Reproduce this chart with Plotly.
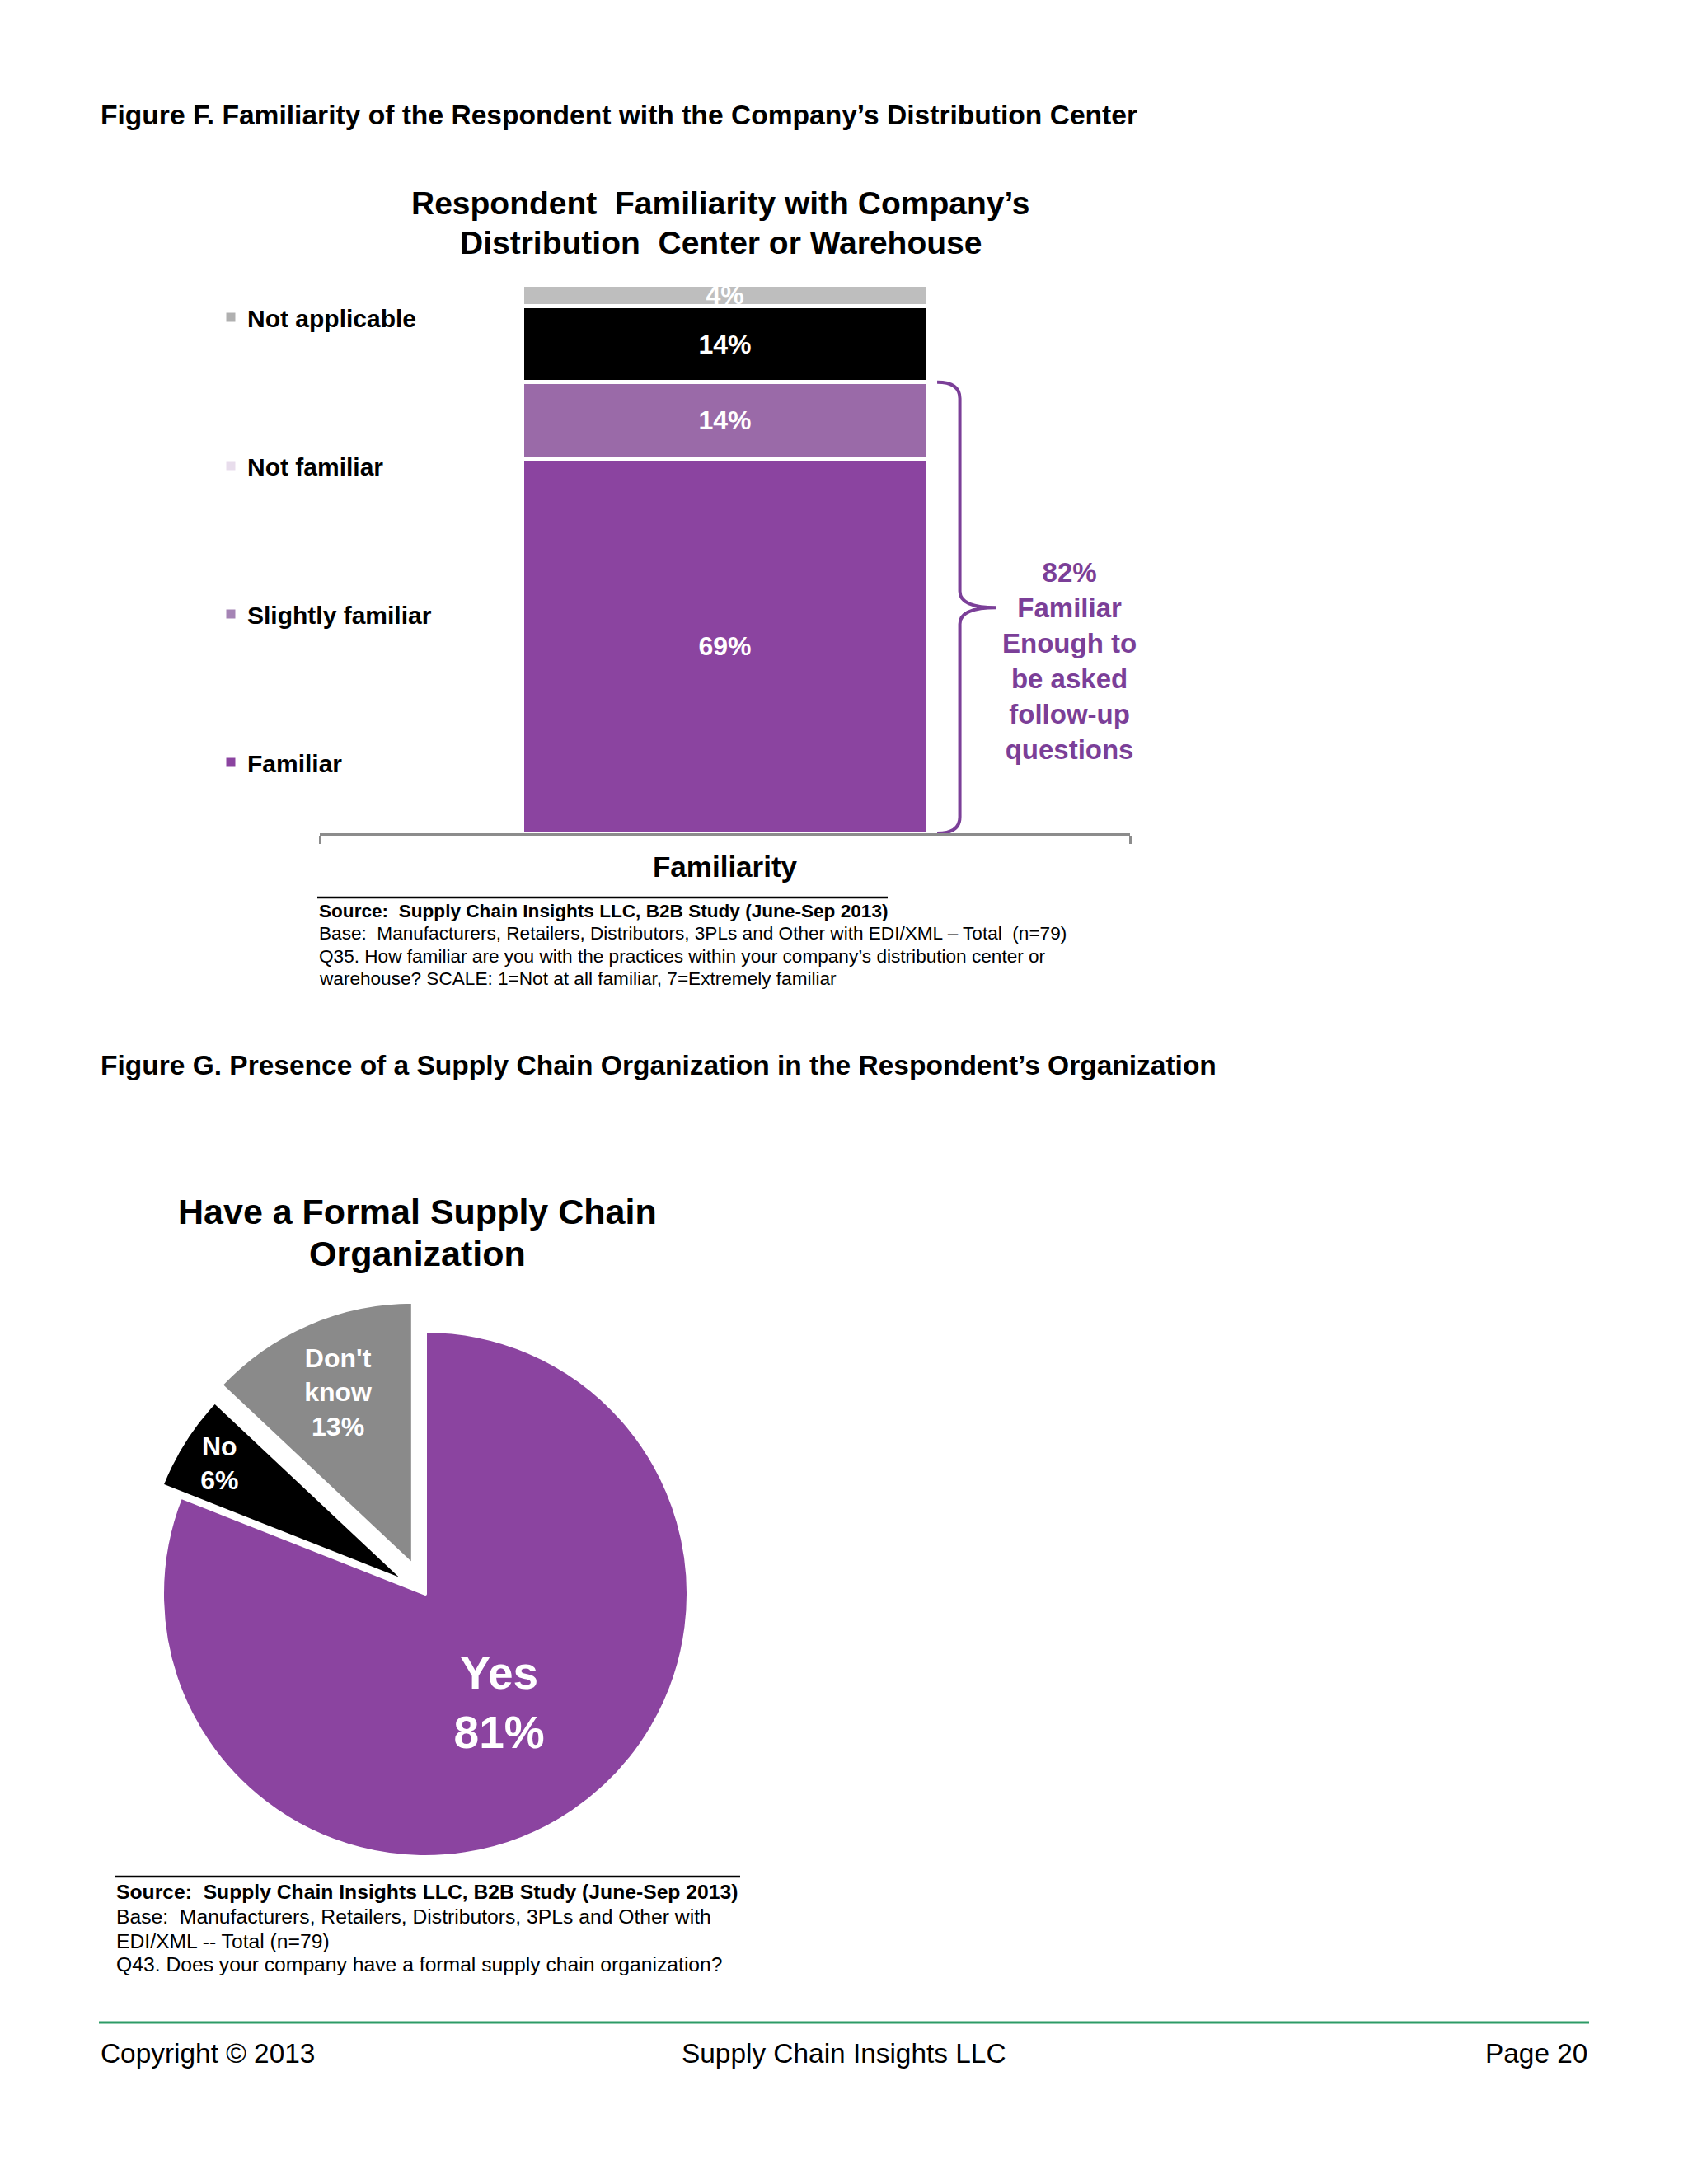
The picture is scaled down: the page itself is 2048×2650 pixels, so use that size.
import plotly.graph_objects as go

W, H = 2048, 2650
FONT = "Liberation Sans, Arial, Helvetica, sans-serif"

# ---------------- Figure F data ----------------
fam_axis_label = ["Familiarity"]
fam_categories = ["Familiar", "Slightly familiar", "Not familiar", "Not applicable"]  # bottom -> top
fam_values = [69, 14, 14, 4]
fam_bar_colors = ["#8B44A0", "#9A6AA8", "#000000", "#BEBEBE"]
fam_legend_colors = ["#8B44A0", "#A584B5", "#E8DDEC", "#B0B0B0"]
fam_bracket_text = "82%<br>Familiar<br>Enough to<br>be asked<br>follow-up<br>questions"

# ---------------- Figure G data ----------------
org_labels = ["Yes", "No", "Don't know"]
org_values = [81, 6, 13]
org_colors = ["#8B44A0", "#000000", "#8A8A8A"]


def px(x):
    return x / W


def py(y):
    return 1 - y / H


fig = go.Figure()

# stacked bar
for cat, val, col in zip(fam_categories, fam_values, fam_bar_colors):
    fig.add_trace(go.Bar(
        x=fam_axis_label, y=[val], name=cat, width=0.5,
        marker=dict(color=col, line=dict(color="white", width=5)),
        text=[f"{val}%"], texttemplate="%{text}", textposition="inside",
        insidetextanchor="middle", constraintext="none",
        textfont=dict(family=FONT, size=32, color="white", weight="bold"),
        showlegend=False, hoverinfo="skip",
    ))

# legend entries (top -> bottom)
for cat, col in zip(fam_categories[::-1], fam_legend_colors[::-1]):
    fig.add_trace(go.Scatter(
        x=[None], y=[None], mode="markers", name=cat, legendgroup=cat,
        marker=dict(symbol="square", size=11, color=col),
        showlegend=True, hoverinfo="skip",
    ))

# pie
R = 319
MAXPULL = 0.12
CX, CY = 516, 1934
half = R * (1 + MAXPULL)
pie_text = [lab.replace(" ", "<br>") + f"<br>{v}%" for lab, v in zip(org_labels, org_values)]
fig.add_trace(go.Pie(
    labels=org_labels, values=org_values, sort=False, direction="clockwise", rotation=0,
    pull=[0, 0.085, MAXPULL],
    marker=dict(colors=org_colors, line=dict(color="white", width=4)),
    text=pie_text, textinfo="text", textposition="inside",
    insidetextorientation="horizontal",
    textfont=dict(family=FONT, size=[55, 32, 32], color="white", weight="bold"),
    domain=dict(x=[px(CX - half), px(CX + half)], y=[py(CY + half), py(CY - half)]),
    showlegend=False, hoverinfo="skip",
))

# curly bracket around Familiar + Slightly familiar
top = fam_values[0] + fam_values[1]
mid = top / 2
d = 3.0
x0, x1, x2 = 0.262, 0.29, 0.335
bracket = (f"M {x0},{top} Q {x1},{top} {x1},{top - d} L {x1},{mid + d} "
           f"Q {x1},{mid} {x2},{mid} Q {x1},{mid} {x1},{mid - d} "
           f"L {x1},{d} Q {x1},0 {x0},0")

shapes = [
    dict(type="path", xref="x", yref="y", path=bracket,
         line=dict(color="#7B3F98", width=4)),
    dict(type="line", xref="paper", yref="paper", x0=px(385), x1=px(1077),
         y0=py(1089), y1=py(1089), line=dict(color="black", width=2.5)),
    dict(type="line", xref="paper", yref="paper", x0=px(139), x1=px(898),
         y0=py(2277), y1=py(2277), line=dict(color="black", width=2.5)),
    dict(type="line", xref="paper", yref="paper", x0=px(120), x1=px(1928),
         y0=py(2454), y1=py(2454), line=dict(color="#2E9B67", width=3)),
]


def ann(text, x, y, size, bold=False, xanchor="left", color="black", align="left"):
    return dict(text=text, x=px(x), y=py(y), xref="paper", yref="paper",
                xanchor=xanchor, yanchor="middle", showarrow=False, align=align,
                font=dict(family=FONT, size=size, color=color,
                          weight="bold" if bold else "normal"))


annotations = [
    ann("Figure F. Familiarity of the Respondent with the Company\u2019s Distribution Center", 120, 139, 33.6, True),
    ann("Respondent  Familiarity with Company\u2019s", 874, 247, 39, True, xanchor="center"),
    ann("Distribution  Center or Warehouse", 874, 295, 39, True, xanchor="center"),
    ann(fam_bracket_text, 1297, 802, 33, True, xanchor="center", color="#7B3F98", align="center"),
    ann("Source:  Supply Chain Insights LLC, B2B Study (June-Sep 2013)", 385, 1106, 22.6, True),
    ann("Base:  Manufacturers, Retailers, Distributors, 3PLs and Other with EDI/XML \u2013 Total  (n=79)", 385, 1133, 22.6),
    ann("Q35. How familiar are you with the practices within your company\u2019s distribution center or", 385, 1160, 22.6),
    ann("warehouse? SCALE: 1=Not at all familiar, 7=Extremely familiar", 385, 1187, 22.6),
    ann("Figure G. Presence of a Supply Chain Organization in the Respondent\u2019s Organization", 120, 1292, 33.5, True),
    ann("Have a Formal Supply Chain", 506, 1470, 43, True, xanchor="center"),
    ann("Organization", 506, 1521, 43, True, xanchor="center"),
    ann("Source:  Supply Chain Insights LLC, B2B Study (June-Sep 2013)", 139, 2295, 24.7, True),
    ann("Base:  Manufacturers, Retailers, Distributors, 3PLs and Other with", 139, 2325, 24.7),
    ann("EDI/XML -- Total (n=79)", 139, 2355, 24.7),
    ann("Q43. Does your company have a formal supply chain organization?", 139, 2383, 24.7),
    ann("Copyright \u00a9 2013", 120, 2491, 33.4),
    ann("Supply Chain Insights LLC", 1024, 2491, 33.4, xanchor="center"),
    ann("Page 20", 1928, 2491, 33.4, xanchor="right"),
]

fig.update_layout(
    width=W, height=H, margin=dict(l=0, r=0, t=0, b=0),
    paper_bgcolor="white", plot_bgcolor="white",
    barmode="stack",
    font=dict(family=FONT, color="black"),
    xaxis=dict(domain=[px(388), px(1371)], range=[-0.5, 0.5], type="category",
               showline=True, linecolor="#8C8C8C", linewidth=3,
               ticks="outside", tickson="boundaries", ticklen=10, tickwidth=3,
               tickcolor="#8C8C8C", showgrid=False, zeroline=False,
               ticklabelstandoff=8,
               tickfont=dict(family=FONT, size=35, color="black", weight="bold"),
               fixedrange=True),
    yaxis=dict(domain=[py(1011), py(345)], range=[0, 101], visible=False,
               showgrid=False, zeroline=False, fixedrange=True),
    legend=dict(x=px(260), xanchor="left", y=py(359), yanchor="top",
                font=dict(family=FONT, size=30, color="black", weight="bold"),
                tracegroupgap=138, traceorder="grouped", bgcolor="rgba(0,0,0,0)"),
    shapes=shapes,
    annotations=annotations,
)

fig.write_html("out.html", config={"displayModeBar": False},
               post_script="document.body.style.margin='0';document.body.style.overflow='hidden';")
